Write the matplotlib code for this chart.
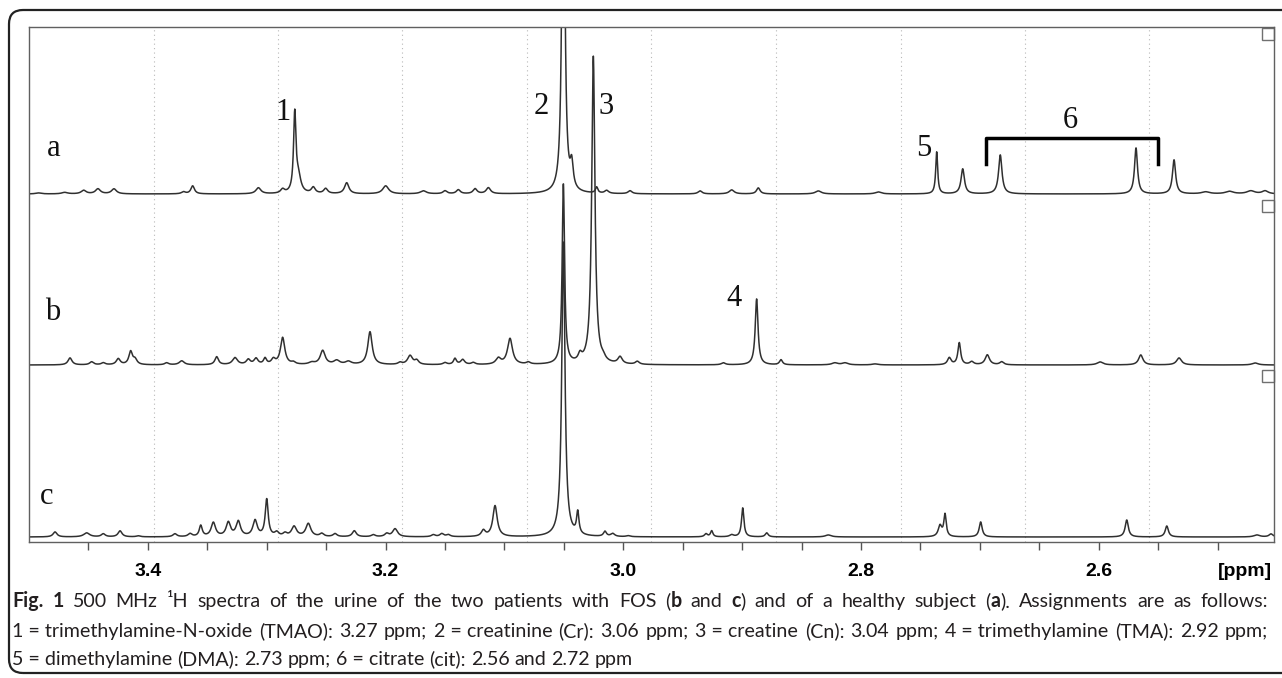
import numpy as np
import matplotlib
matplotlib.use('Agg')
import matplotlib.pyplot as plt
from matplotlib.patches import FancyBboxPatch, Rectangle
from matplotlib.transforms import IdentityTransform

# peak lists: position (ppm), height, half width (ppm)
a_ppm = [3.492, 3.470, 3.454, 3.442, 3.4285, 3.370, 3.3623, 3.307, 3.2866, 3.2764,
         3.2734, 3.2608, 3.2504, 3.2327, 3.1999, 3.1682, 3.150, 3.1388, 3.1247, 3.1135,
         3.0504, 3.0434, 3.0224, 3.014, 2.9943, 2.9354, 2.9088, 2.8864, 2.8359, 2.7854,
         2.7363, 2.7144, 2.6828, 2.5686, 2.5366, 2.510, 2.490, 2.472, 2.460]
a_hgt = [1, 1.5, 3.5, 5, 5, 2, 8, 6, 4, 78,
         16, 6, 5, 11, 8, 3, 3, 4, 5, 6,
         450, 24, 6, 3, 3, 3, 4, 6, 3, 2,
         42, 25, 39, 46, 34, 2, 2.5, 3, 3]
a_wid = [.003, .003, .0025, .0025, .0025, .002, .0018, .0025, .002, .0012,
         .0025, .002, .002, .0022, .003, .003, .002, .002, .002, .0022,
         .0013, .0015, .0012, .002, .002, .002, .0025, .0018, .003, .003,
         .0010, .0017, .0017, .0015, .0016, .004, .004, .004, .003]

b_ppm = [3.4655, 3.4473, 3.4375, 3.4249, 3.4145, 3.4108, 3.3842, 3.3715, 3.3421, 3.3267,
         3.3155, 3.309, 3.3014, 3.2944, 3.2866, 3.2776, 3.2621, 3.2529, 3.2411, 3.2313,
         3.2131, 3.1878, 3.1794, 3.1738, 3.150, 3.1416, 3.1351, 3.1262, 3.1051, 3.0953,
         3.0799, 3.0504, 3.0364, 3.0252, 3.0168, 3.0027, 2.9882, 2.9158, 2.8878, 2.8673,
         2.822, 2.8134, 2.7882, 2.7257, 2.7173, 2.7068, 2.6937, 2.6816, 2.5988, 2.5646,
         2.5324, 2.4684]
b_hgt = [7, 3, 2, 6, 13, 5, 2, 4, 8, 7,
         5, 6, 6, 5, 27, 2, 2, 14, 4, 3,
         33, 2, 9, 4, 2, 6, 5, 2, 6, 26,
         2, 180, 7, 308, 3, 7, 3, 2, 66, 5,
         2, 2, 1, 7, 22, 3, 10, 3, 3, 10,
         7, 2]
b_wid = [.002, .002, .002, .002, .0018, .002, .002, .0025, .0018, .0025,
         .002, .002, .0015, .002, .0022, .002, .003, .0025, .003, .003,
         .0022, .002, .0025, .002, .002, .0015, .002, .002, .0025, .0025,
         .002, .0012, .0018, .0016, .002, .0022, .002, .002, .0014, .0015,
         .003, .003, .003, .0018, .0014, .002, .0022, .002, .003, .0022,
         .0025, .003]

c_ppm = [3.4781, 3.4515, 3.4375, 3.4234, 3.408, 3.3772, 3.3645, 3.3555, 3.3449, 3.3323,
         3.3239, 3.3098, 3.300, 3.2916, 3.2846, 3.277, 3.265, 3.2537, 3.2425, 3.2263,
         3.2103, 3.199, 3.192, 3.1598, 3.1527, 3.1472, 3.1177, 3.1079, 3.0504, 3.0383,
         3.0154, 3.0089, 2.9958, 2.9304, 2.9256, 2.9088, 2.8995, 2.8793, 2.8275, 2.7335,
         2.7293, 2.6993, 2.5764, 2.5427, 2.4669, 2.455]
c_hgt = [5, 4, 3, 6, 1, 3, 3, 11, 14, 14,
         15, 16, 37, 4, 3, 10, 13, 3, 3, 6,
         2, 3, 8, 2, 3, 2, 6, 31, 295, 22,
         5, 3, 1, 3, 6, 2, 29, 4, 2, 11,
         22, 15, 17, 11, 2, 3]
c_wid = [.002, .003, .002, .002, .002, .002, .002, .0015, .0022, .0022,
         .0022, .0022, .0015, .002, .002, .0025, .0025, .002, .002, .002,
         .002, .002, .0025, .002, .002, .002, .002, .0022, .0016, .0012,
         .0015, .002, .002, .0015, .0012, .002, .0012, .0015, .003, .0018,
         .0012, .0015, .0016, .0016, .003, .002]

tick_pos = [3.45, 3.40, 3.35, 3.30, 3.25, 3.20, 3.15, 3.10, 3.05, 3.00,
            2.95, 2.90, 2.85, 2.80, 2.75, 2.70, 2.65, 2.60, 2.55, 2.50]
tick_lab = ['', '3.4', '', '', '', '3.2', '', '', '', '3.0',
            '', '', '', '2.8', '', '', '', '2.6', '', '']

W, H = 1282, 678
fig = plt.figure(figsize=(W / 100, H / 100), dpi=100)
ax = fig.add_axes([29 / W, 1 - 542 / H, 1245 / W, 515 / H])

x0, x1 = 3.5, 2.4525
ppm = np.linspace(x0, x1, 9000)


def spectrum(pos, hgt, wid):
    y = np.zeros_like(ppm)
    for p, h, w in zip(pos, hgt, wid):
        y += h / (1 + ((ppm - p) / w) ** 2)
    return y


# dotted grid splits the box into ten parts
for k in range(1, 10):
    ax.axvline(x0 + k * (x1 - x0) / 10, color='#b8b8b8', lw=0.8, ls=(0, (1, 3)), zorder=0)

line_kw = dict(color='#303030', lw=1.1)
ax.plot(ppm, 348 + spectrum(a_ppm, a_hgt, a_wid), **line_kw)
ax.plot(ppm, 177 + spectrum(b_ppm, b_hgt, b_wid), **line_kw)
ax.plot(ppm, 5 + spectrum(c_ppm, c_hgt, c_wid), **line_kw)

ax.set_xlim(x0, x1)
ax.set_ylim(0, 515)
ax.set_yticks([])
ax.set_xticks(tick_pos)
ax.set_xticklabels(tick_lab, fontfamily='Liberation Sans', fontweight='bold', fontsize=14)
ax.tick_params(axis='x', direction='out', length=6, width=1, color='#555555', pad=9)
for s in ax.spines.values():
    s.set_color('#606060')
    s.set_linewidth(1)

# little trace markers on the right edge
for yb in [0.9748, 0.6408, 0.3107]:
    ax.add_patch(Rectangle((0.9904, yb), 0.0096, 0.0233, transform=ax.transAxes,
                           fill=False, ec='#707070', lw=1, clip_on=False))

serif = dict(fontfamily='Liberation Serif', fontsize=22, ha='center', va='center', color='#111111')
ax.text(3.479, 394, 'a', **serif)
ax.text(3.4798, 230, 'b', **serif)
ax.text(3.4851, 45, 'c', **serif)
ax.text(3.286, 430, '1', **serif)
ax.text(3.0692, 435, '2', **serif)
ax.text(3.0148, 435, '3', **serif)
ax.text(2.9068, 244, '4', **serif)
ax.text(2.7475, 394, '5', **serif)
ax.text(2.6241, 422, '6', **serif)
ax.plot([2.6948, 2.6948, 2.5503, 2.5503], [377.7, 403.7, 403.7, 377.7], color='black', lw=2.5)

fig.text(1245 / W, 1 - 572 / H, '[ppm]', fontfamily='Liberation Sans', fontweight='bold',
         fontsize=14, ha='center', va='center')

# outer rounded frame
fig.add_artist(FancyBboxPatch((9, 5), 1300, 663, boxstyle='round,pad=0,rounding_size=14',
                              transform=IdentityTransform(), fill=False, ec='#222222', lw=1.6))

# caption, set word by word so the first two lines are justified
cap_font = 'Lato'
line1 = [[('Fig.', True)], [('1', True)], [('500', False)], [('MHz', False)], [('\u00b9H', False)],
         [('spectra', False)], [('of', False)], [('the', False)], [('urine', False)], [('of', False)],
         [('the', False)], [('two', False)], [('patients', False)], [('with', False)], [('FOS', False)],
         [('(', False), ('b', True)], [('and', False)], [('c', True), (')', False)], [('and', False)],
         [('of', False)], [('a', False)], [('healthy', False)], [('subject', False)],
         [('(', False), ('a', True), (').', False)], [('Assignments', False)], [('are', False)],
         [('as', False)], [('follows:', False)]]
line2 = [[(w, False)] for w in ['1 = trimethylamine-N-oxide', '(TMAO):', '3.27', 'ppm;', '2 = creatinine',
                                '(Cr):', '3.06', 'ppm;', '3 = creatine', '(Cn):', '3.04', 'ppm;',
                                '4 = trimethylamine', '(TMA):', '2.92', 'ppm;']]
line3 = [[(w, False)] for w in ['5 = dimethylamine', '(DMA):', '2.73', 'ppm;', '6 = citrate', '(cit):',
                                '2.56', 'and', '2.72', 'ppm']]

renderer = fig.canvas.get_renderer()


def width_of(txt, bold, fs):
    t = fig.text(0, 0, txt, fontsize=fs, fontfamily=cap_font, fontweight='bold' if bold else 'normal')
    w = t.get_window_extent(renderer).width
    t.remove()
    return w


def words_width(words, fs):
    return [[width_of(t, b, fs) for t, b in word] for word in words]


x_left, x_right = 12, 1268
base_fs = 10
nat = words_width(line3, base_fs)
nat_w = sum(sum(w) for w in nat) + (len(line3) - 1) * width_of('a a', False, base_fs) \
    - (len(line3) - 1) * width_of('aa', False, base_fs)
cap_fs = base_fs * 622 / nat_w
space_w = width_of('a a', False, cap_fs) - width_of('aa', False, cap_fs)


def put_line(words, ybase, justify):
    ws = words_width(words, cap_fs)
    total = sum(sum(w) for w in ws)
    gap = (x_right - x_left - total) / (len(words) - 1) if justify else space_w
    x = x_left
    for word, wl in zip(words, ws):
        for (txt, bold), w in zip(word, wl):
            fig.text(x / W, 1 - ybase / H, txt, fontsize=cap_fs, fontfamily=cap_font,
                     fontweight='bold' if bold else 'normal', color='#231f20', va='baseline')
            x += w
        x += gap


put_line(line1, 607, True)
put_line(line2, 637, True)
put_line(line3, 665, False)

fig.savefig('out.png', dpi=100)
